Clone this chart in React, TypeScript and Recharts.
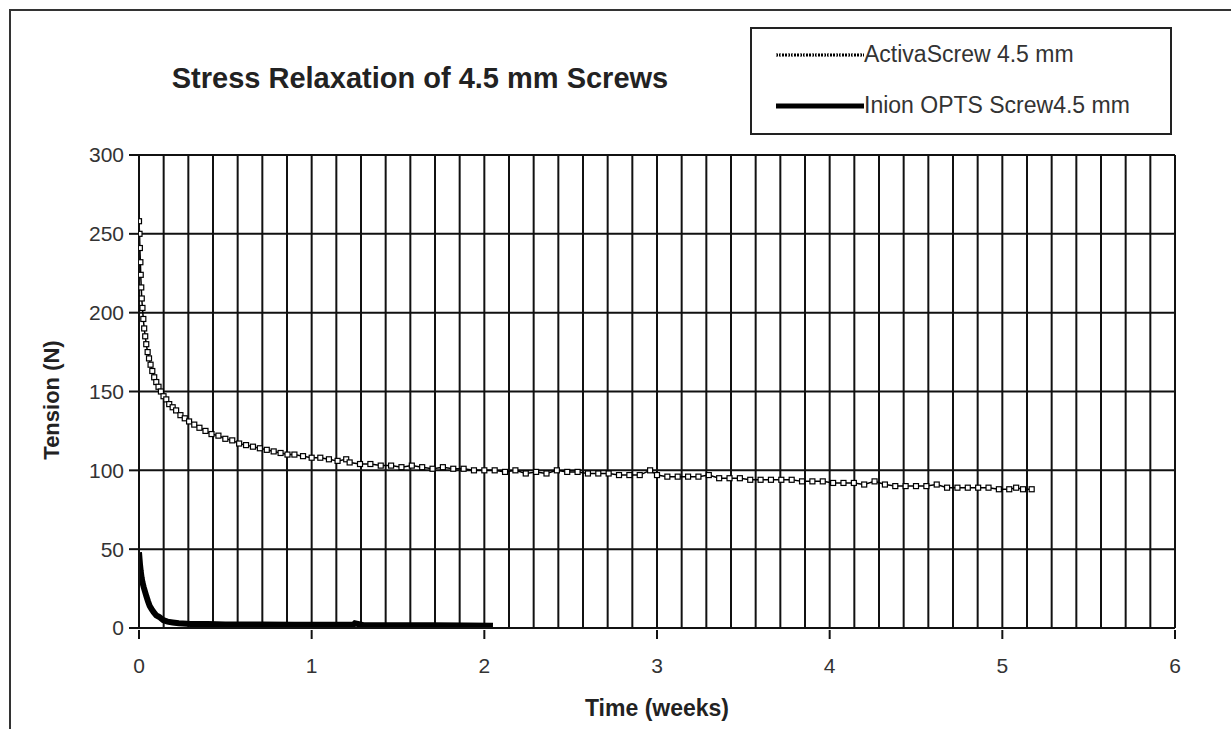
import { CartesianGrid, Line, LineChart, XAxis, YAxis } from "recharts";

// Activa screw: time (weeks) / tension (N)
const activaWeeks = [
  0.0, 0.003, 0.005, 0.008, 0.01, 0.013, 0.016, 0.02, 0.025, 0.03, 0.036, 0.042, 0.05, 0.058,
  0.067, 0.077, 0.088, 0.1, 0.113, 0.127, 0.142, 0.158, 0.175, 0.195, 0.215, 0.24, 0.265, 0.29,
  0.32, 0.35, 0.385, 0.42, 0.46, 0.5, 0.54, 0.58, 0.62, 0.66, 0.7, 0.74, 0.78, 0.82, 0.86, 0.9,
  0.95, 1.0, 1.05, 1.1, 1.15, 1.2, 1.22, 1.28, 1.34, 1.4, 1.46, 1.52, 1.58, 1.64, 1.7, 1.76,
  1.82, 1.88, 1.94, 2.0, 2.06, 2.12, 2.18, 2.24, 2.3, 2.36, 2.42, 2.48, 2.54, 2.6, 2.66, 2.72,
  2.78, 2.84, 2.9, 2.96, 3.0, 3.06, 3.12, 3.18, 3.24, 3.3, 3.36, 3.42, 3.48, 3.54, 3.6, 3.66,
  3.72, 3.78, 3.84, 3.9, 3.96, 4.02, 4.08, 4.14, 4.2, 4.26, 4.32, 4.38, 4.44, 4.5, 4.56, 4.62,
  4.68, 4.74, 4.8, 4.86, 4.92, 4.98, 5.04, 5.08, 5.12, 5.17,
];
const activaTension = [
  258, 250, 241, 232, 224, 216, 209, 203, 196, 190, 185, 180, 175, 171,
  167, 163, 159, 156, 153, 150, 147, 145, 142, 140, 138, 135, 133, 131,
  129, 127, 125, 123, 122, 120, 119, 117, 116, 115, 114, 113, 112, 111, 110, 110,
  109, 108, 108, 107, 106, 107, 105, 104, 104, 103, 103, 102, 103, 102, 101, 102,
  101, 101, 100, 100, 100, 99, 100, 98, 99, 98, 100, 99, 99, 98, 98, 98,
  97, 97, 97, 100, 97, 96, 96, 96, 96, 97, 95, 95, 95, 94, 94, 94,
  94, 94, 93, 93, 93, 92, 92, 92, 91, 93, 91, 90, 90, 90, 90, 91,
  89, 89, 89, 89, 89, 88, 88, 89, 88, 88,
];

// Inion OPTS screw
const inionWeeks = [
  0.0, 0.003, 0.006, 0.01, 0.015, 0.02, 0.027, 0.035, 0.043, 0.052, 0.062, 0.073, 0.085, 0.1,
  0.118, 0.14, 0.165, 0.195, 0.23, 0.3, 0.4, 0.5, 0.7, 0.9, 1.1, 1.24, 1.25, 1.3, 1.5, 1.7, 1.9,
  2.05,
];
const inionTension = [
  48, 44, 40, 36, 32, 29, 26, 23, 20, 17, 14, 12, 10, 8,
  7, 5, 4, 3.5, 3, 2.5, 2.5, 2.2, 2.2, 2, 2, 2, 3, 1.8, 1.8, 1.7, 1.6,
  1.5,
];

const weekTicks = [0, 1, 2, 3, 4, 5, 6];
const tensionTicks = [0, 50, 100, 150, 200, 250, 300];
// one vertical grid line per day
const dayTicks = Array.from({ length: 6 * 7 + 1 }, (_, i) => i / 7);

const activa = activaWeeks.map((t, i) => ({ t, n: activaTension[i] }));
const inion = inionWeeks.map((t, i) => ({ t, n: inionTension[i] }));

const font = '"Liberation Sans", Arial, sans-serif';

function XTick(props: any) {
  const { x, y, payload } = props;
  const v = payload.value;
  const whole = weekTicks.find((w) => Math.abs(w - v) < 1e-6);
  if (whole === undefined) return <g />;
  return (
    <g>
      <line x1={x} x2={x} y1={y} y2={y + 9} stroke="#111" strokeWidth={2} />
      <text x={x} y={y + 43} textAnchor="middle" fontSize={21} fill="#333" fontFamily={font}>
        {whole}
      </text>
    </g>
  );
}

function SquareDot(props: any) {
  const { cx, cy } = props;
  if (cx == null || cy == null) return <g />;
  return <rect x={cx - 2.5} y={cy - 2.5} width={5} height={5} fill="#fff" stroke="#000" strokeWidth={1.2} />;
}

export default function App() {
  return (
    <div
      style={{
        position: "fixed",
        left: 0,
        top: 0,
        width: 1231,
        height: 729,
        overflow: "hidden",
        background: "#fff",
        fontFamily: font,
      }}
    >
      <div
        style={{
          position: "absolute",
          left: 9,
          top: 9,
          width: 1300,
          height: 800,
          border: "2px solid #333",
        }}
      />
      <div
        style={{
          position: "absolute",
          left: 120,
          width: 600,
          top: 62,
          textAlign: "center",
          fontSize: 29,
          fontWeight: "bold",
          color: "#222",
        }}
      >
        Stress Relaxation of 4.5 mm Screws
      </div>

      <div
        style={{
          position: "absolute",
          left: 750,
          top: 27,
          width: 418,
          height: 104,
          border: "2px solid #222",
          background: "#fff",
          zIndex: 2,
        }}
      >
        <div style={{ position: "absolute", left: 24, top: 12, display: "flex", alignItems: "center" }}>
          <svg width={88} height={10}>
            <line x1={0} x2={88} y1={5} y2={5} stroke="#000" strokeWidth={3} strokeDasharray="2 1" />
            <line x1={0} x2={88} y1={5} y2={5} stroke="#fff" strokeWidth={1} strokeDasharray="1 3" />
          </svg>
          <span style={{ fontSize: 23, color: "#333" }}>ActivaScrew 4.5 mm</span>
        </div>
        <div style={{ position: "absolute", left: 24, top: 63, display: "flex", alignItems: "center" }}>
          <svg width={88} height={10}>
            <line x1={0} x2={88} y1={5} y2={5} stroke="#000" strokeWidth={5} />
          </svg>
          <span style={{ fontSize: 23, color: "#333" }}>Inion OPTS Screw4.5 mm</span>
        </div>
      </div>

      <div
        style={{
          position: "absolute",
          left: 52,
          top: 400,
          transform: "translate(-50%, -50%) rotate(-90deg)",
          fontSize: 22,
          fontWeight: "bold",
          color: "#222",
          whiteSpace: "nowrap",
        }}
      >
        Tension (N)
      </div>
      <div
        style={{
          position: "absolute",
          left: 657,
          top: 708,
          transform: "translate(-50%, -50%)",
          fontSize: 23,
          fontWeight: "bold",
          color: "#222",
          whiteSpace: "nowrap",
        }}
      >
        Time (weeks)
      </div>

      <div style={{ position: "absolute", left: 0, top: 0 }}>
        <LineChart width={1231} height={729} margin={{ top: 155, right: 56, left: 79, bottom: 41 }}>
          <CartesianGrid stroke="#111" strokeWidth={2} />
          <XAxis
            dataKey="t"
            type="number"
            domain={[0, 6]}
            ticks={dayTicks}
            interval={0}
            tick={<XTick />}
            tickLine={false}
            tickSize={0}
            height={60}
            axisLine={{ stroke: "#111", strokeWidth: 2 }}
            allowDataOverflow
          />
          <YAxis
            type="number"
            domain={[0, 300]}
            ticks={tensionTicks}
            interval={0}
            width={60}
            tickSize={10}
            tickMargin={5}
            tick={{ fontSize: 21, fill: "#333", fontFamily: font }}
            tickLine={{ stroke: "#111", strokeWidth: 2 }}
            axisLine={{ stroke: "#111", strokeWidth: 2 }}
          />
          <Line
            data={inion}
            dataKey="n"
            type="linear"
            stroke="#000"
            strokeWidth={6}
            dot={false}
            isAnimationActive={false}
          />
          <Line
            data={activa}
            dataKey="n"
            type="linear"
            stroke="#000"
            strokeWidth={1.5}
            dot={<SquareDot />}
            isAnimationActive={false}
          />
        </LineChart>
      </div>
    </div>
  );
}
